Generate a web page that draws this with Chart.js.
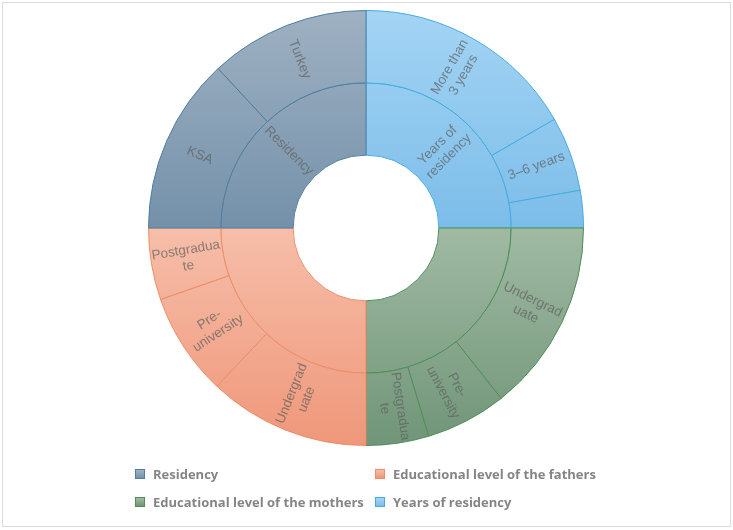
<!DOCTYPE html>
<html>
<head>
<meta charset="utf-8">
<script src="https://cdn.jsdelivr.net/npm/chart.js@4/dist/chart.umd.min.js"></script>
<style>
  body { margin: 0; background: #fff; }
  #frame { position: absolute; left: 2px; top: 2px; width: 727px; height: 523px; border: 1px solid #dcdcdc; }
  #chart { position: absolute; left: 0; top: 0; }
  #legend { position: absolute; left: 0; top: 0; font-family: "Open Sans", sans-serif; font-weight: 700; font-size: 13px; color: #858585; }
  .item { position: absolute; white-space: nowrap; line-height: 16px; }
  .box { position: absolute; left: 0; top: 3px; width: 10px; height: 10px; box-sizing: border-box; border: 1px solid; }
  .item span { position: absolute; left: 18px; top: 0; }
</style>
</head>
<body>
<div id="frame"></div>
<canvas id="chart" width="733" height="530"></canvas>
<div id="legend"></div>
<script>
// inner ring, clockwise from 12 o'clock
const groups = ["Years of residency", "Educational level of the mothers", "Educational level of the fathers", "Residency"];
const groupTitles = ["Years of\nresidency", "", "", "Residency"];
const groupValues = [25, 25, 25, 25];

// outer ring, shares (%) inside each group
const yearsLabels = ["More than\n3 years", "3–6 years", ""];
const yearsShares = [66.7, 22.2, 11.1];
const mothersLabels = ["Undergrad\nuate", "Pre-\nuniversity", "Postgradua\nte"];
const mothersShares = [57.3, 24.1, 18.6];
const fathersLabels = ["Undergrad\nuate", "Pre-\nuniversity", "Postgradua\nte"];
const fathersShares = [48.1, 30.6, 21.3];
const residencyLabels = ["KSA", "Turkey"];
const residencyShares = [52.4, 47.6];

// legend order as in the picture
const legendOrder = [3, 2, 1, 0];

const topColors = ["#a4d4f4", "#a0baa3", "#f6bea9", "#9fb1c2"];
const bottomColors = ["#7cbde9", "#709578", "#ef977a", "#7491aa"];
const lineColors = ["#45acdf", "#4e8e58", "#ee8c67", "#4f7e9e"];
const onTop = [true, false, false, true];

const subSets = [
  [yearsLabels, yearsShares],
  [mothersLabels, mothersShares],
  [fathersLabels, fathersShares],
  [residencyLabels, residencyShares],
];

let outerData = [], outerLabels = [], outerGroup = [];
subSets.forEach(([labels, shares], g) => {
  shares.forEach((s, i) => {
    outerData.push(groupValues[g] * s / 100);
    outerLabels.push(labels[i]);
    outerGroup.push(g);
  });
});
const innerGroup = groups.map((n, g) => g);

function groupFill(context) {
  const ds = context.dataset;
  if (!ds) return topColors[0];
  const g = ds.groupOf[context.dataIndex];
  const chart = context.chart;
  const area = chart.chartArea;
  if (!area) return topColors[g];
  const cy = (area.top + area.bottom) / 2;
  const y0 = onTop[g] ? area.top : cy;
  const y1 = onTop[g] ? cy : area.bottom;
  const grad = chart.ctx.createLinearGradient(0, y0, 0, y1);
  grad.addColorStop(0, topColors[g]);
  grad.addColorStop(1, bottomColors[g]);
  return grad;
}

// rotated labels inside the rings
const ringLabels = {
  id: "ringLabels",
  afterDatasetsDraw(chart) {
    const ctx = chart.ctx;
    ctx.save();
    ctx.font = "13.5px 'Liberation Sans', Arial, sans-serif";
    ctx.fillStyle = "rgba(95,95,95,0.72)";
    ctx.textAlign = "center";
    ctx.textBaseline = "middle";
    chart.data.datasets.forEach((ds, di) => {
      const meta = chart.getDatasetMeta(di);
      meta.data.forEach((arc, i) => {
        const text = ds.ringText[i];
        if (!text) return;
        const p = arc.getProps(["x", "y", "startAngle", "endAngle", "innerRadius", "outerRadius"], true);
        const a = (p.startAngle + p.endAngle) / 2;
        const r = (p.innerRadius + p.outerRadius) / 2;
        let rot = a;
        if (Math.cos(a) < 0) rot = a + Math.PI;
        ctx.save();
        ctx.translate(p.x + Math.cos(a) * r, p.y + Math.sin(a) * r);
        ctx.rotate(rot);
        const lines = text.split("\n");
        lines.forEach((ln, k) => {
          ctx.fillText(ln, 0, (k - (lines.length - 1) / 2) * 16);
        });
        ctx.restore();
      });
    });
    ctx.restore();
  },
};

const chart = new Chart(document.getElementById("chart"), {
  type: "doughnut",
  data: {
    labels: outerLabels,
    datasets: [
      {
        data: outerData,
        ringText: outerLabels,
        groupOf: outerGroup,
        backgroundColor: groupFill,
        borderColor: outerGroup.map((g) => lineColors[g]),
        borderWidth: 1,
      },
      {
        data: groupValues,
        ringText: groupTitles,
        groupOf: innerGroup,
        backgroundColor: groupFill,
        borderColor: lineColors,
        borderWidth: 1,
      },
    ],
  },
  options: {
    responsive: false,
    animation: false,
    devicePixelRatio: 1,
    cutout: "33.5%",
    layout: { padding: { left: 148, top: 10, right: 149, bottom: 84 } },
    plugins: {
      legend: { display: false },
      tooltip: { enabled: false },
    },
  },
  plugins: [ringLabels],
});

// legend, two columns
const legendPos = [[135, 466], [375, 466], [135, 494], [375, 494]];
const legendEl = document.getElementById("legend");
legendOrder.forEach((g, k) => {
  const item = document.createElement("div");
  item.className = "item";
  item.style.left = legendPos[k][0] + "px";
  item.style.top = legendPos[k][1] + "px";
  item.innerHTML =
    '<div class="box" style="background:linear-gradient(' + topColors[g] + "," + bottomColors[g] +
    ");border-color:" + lineColors[g] + '"></div><span>' + groups[g] + "</span>";
  legendEl.appendChild(item);
});
</script>
</body>
</html>
